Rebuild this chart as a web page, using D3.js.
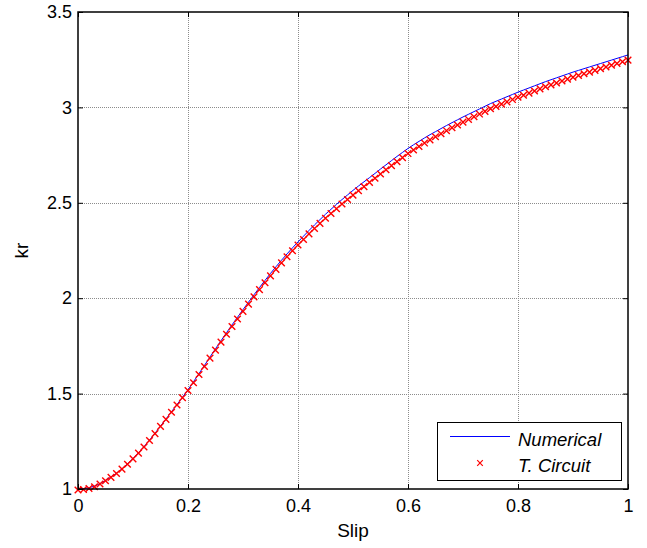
<!DOCTYPE html>
<html>
<head>
<meta charset="utf-8">
<script src="https://cdn.jsdelivr.net/npm/d3@7/dist/d3.min.js"></script>
<style>
  html, body { margin: 0; padding: 0; background: #fff; }
  svg { display: block; font-family: "Liberation Sans", Arial, sans-serif; }
</style>
</head>
<body>
<svg id="chart" width="647" height="548"></svg>
<script>
// Slip values (x) shared by both series
const slip = [
  0.00,0.01,0.02,0.03,0.04,0.05,0.06,0.07,0.08,0.09,
  0.10,0.11,0.12,0.13,0.14,0.15,0.16,0.17,0.18,0.19,
  0.20,0.21,0.22,0.23,0.24,0.25,0.26,0.27,0.28,0.29,
  0.30,0.31,0.32,0.33,0.34,0.35,0.36,0.37,0.38,0.39,
  0.40,0.41,0.42,0.43,0.44,0.45,0.46,0.47,0.48,0.49,
  0.50,0.51,0.52,0.53,0.54,0.55,0.56,0.57,0.58,0.59,
  0.60,0.61,0.62,0.63,0.64,0.65,0.66,0.67,0.68,0.69,
  0.70,0.71,0.72,0.73,0.74,0.75,0.76,0.77,0.78,0.79,
  0.80,0.81,0.82,0.83,0.84,0.85,0.86,0.87,0.88,0.89,
  0.90,0.91,0.92,0.93,0.94,0.95,0.96,0.97,0.98,0.99,
  1.00
];

// kr from the numerical solution
const numerical = [
  1.000,1.002,1.007,1.015,1.028,1.045,1.063,1.083,1.106,1.132,
  1.160,1.190,1.222,1.256,1.292,1.330,1.367,1.405,1.443,1.481,
  1.520,1.562,1.605,1.648,1.692,1.735,1.777,1.819,1.860,1.900,
  1.940,1.979,2.018,2.056,2.093,2.130,2.165,2.199,2.232,2.264,
  2.295,2.325,2.355,2.384,2.412,2.440,2.466,2.492,2.517,2.541,
  2.565,2.588,2.610,2.632,2.654,2.677,2.699,2.721,2.743,2.764,
  2.785,2.804,2.822,2.840,2.857,2.873,2.889,2.905,2.920,2.935,
  2.950,2.964,2.978,2.992,3.006,3.020,3.032,3.044,3.056,3.068,
  3.080,3.091,3.102,3.113,3.124,3.135,3.145,3.155,3.165,3.175,
  3.185,3.194,3.203,3.212,3.221,3.230,3.239,3.248,3.257,3.266,
  3.275
];

// kr from the T equivalent circuit
const tCircuit = [
  0.995,0.997,1.003,1.012,1.026,1.043,1.061,1.081,1.104,1.130,
  1.158,1.188,1.220,1.254,1.290,1.328,1.365,1.402,1.440,1.478,
  1.516,1.557,1.600,1.642,1.686,1.728,1.770,1.811,1.852,1.891,
  1.931,1.969,2.007,2.045,2.081,2.117,2.151,2.185,2.217,2.249,
  2.279,2.308,2.337,2.365,2.392,2.419,2.444,2.469,2.494,2.517,
  2.540,2.563,2.585,2.607,2.629,2.651,2.673,2.695,2.716,2.737,
  2.758,2.777,2.795,2.813,2.830,2.846,2.862,2.878,2.893,2.908,
  2.923,2.937,2.951,2.965,2.979,2.993,3.005,3.017,3.029,3.041,
  3.053,3.064,3.075,3.086,3.097,3.108,3.118,3.128,3.138,3.148,
  3.158,3.167,3.176,3.185,3.194,3.203,3.212,3.221,3.230,3.239,
  3.248
];

const xTicks = [0, 0.2, 0.4, 0.6, 0.8, 1];
const xTickLabels = ["0", "0.2", "0.4", "0.6", "0.8", "1"];
const yTicks = [1, 1.5, 2, 2.5, 3, 3.5];
const yTickLabels = ["1", "1.5", "2", "2.5", "3", "3.5"];
const seriesNames = ["Numerical", "T. Circuit"];

const svg = d3.select("#chart");
const W = 647, H = 548;
const margin = { left: 78, top: 12, right: 19, bottom: 59 };
const pw = W - margin.left - margin.right;
const ph = H - margin.top - margin.bottom;

const x = d3.scaleLinear().domain([0, 1]).range([margin.left, margin.left + pw]);
const y = d3.scaleLinear().domain([1, 3.5]).range([margin.top + ph, margin.top]);

// dotted grid
const grid = svg.append("g").attr("stroke", "#8c8c8c").attr("stroke-width", 1)
  .attr("stroke-dasharray", "1,1");
grid.selectAll("line.gx").data(xTicks.slice(1, -1)).join("line")
  .attr("x1", d => Math.round(x(d)) + 0.5).attr("x2", d => Math.round(x(d)) + 0.5)
  .attr("y1", y(3.5)).attr("y2", y(1));
grid.selectAll("line.gy").data(yTicks.slice(1, -1)).join("line")
  .attr("y1", d => Math.round(y(d)) + 0.5).attr("y2", d => Math.round(y(d)) + 0.5)
  .attr("x1", x(0)).attr("x2", x(1));

// series: numerical line
const line = d3.line().x((d, i) => x(slip[i])).y(d => y(d));
svg.append("path").datum(numerical)
  .attr("fill", "none").attr("stroke", "#0000ff").attr("stroke-width", 1)
  .attr("d", line);

// series: T-circuit 'x' markers
const ms = 3.3;
const marks = svg.append("g").attr("stroke", "#ff0000").attr("stroke-width", 1.4);
marks.selectAll("path").data(tCircuit).join("path")
  .attr("d", (d, i) => {
    const cx = x(slip[i]), cy = y(d);
    return `M${cx - ms},${cy - ms}L${cx + ms},${cy + ms}M${cx - ms},${cy + ms}L${cx + ms},${cy - ms}`;
  });

// axes with inward ticks on all four sides
const tickLen = 5;
const axisG = svg.append("g");
axisG.append("rect")
  .attr("x", x(0)).attr("y", y(3.5)).attr("width", pw).attr("height", ph)
  .attr("fill", "none").attr("stroke", "#000").attr("stroke-width", 1.5);

const bottomAxis = d3.axisBottom(x).tickValues(xTicks).tickSize(-tickLen)
  .tickFormat((d, i) => xTickLabels[i]).tickPadding(10);
const topAxis = d3.axisTop(x).tickValues(xTicks).tickSize(-tickLen).tickFormat("");
const leftAxis = d3.axisLeft(y).tickValues(yTicks).tickSize(-tickLen)
  .tickFormat((d, i) => yTickLabels[i]).tickPadding(6);
const rightAxis = d3.axisRight(y).tickValues(yTicks).tickSize(-tickLen).tickFormat("");

function styleAxis(g) {
  g.select(".domain").remove();
  g.selectAll(".tick line").attr("stroke", "#000").attr("stroke-width", 1);
  g.selectAll(".tick text").attr("fill", "#000")
    .style("font-size", "18px").style("font-family", "'Liberation Sans', Arial, sans-serif");
}
axisG.append("g").attr("transform", `translate(0,${y(1)})`).call(bottomAxis).call(styleAxis);
axisG.append("g").attr("transform", `translate(0,${y(3.5)})`).call(topAxis).call(styleAxis);
axisG.append("g").attr("transform", `translate(${x(0)},0)`).call(leftAxis).call(styleAxis);
axisG.append("g").attr("transform", `translate(${x(1)},0)`).call(rightAxis).call(styleAxis);

// axis titles
svg.append("text").attr("x", x(0.5)).attr("y", 537).attr("text-anchor", "middle")
  .style("font-size", "19px").attr("fill", "#000").text("Slip");
svg.append("text").attr("transform", `translate(28,${y(2.25)}) rotate(-90)`)
  .attr("text-anchor", "middle").style("font-size", "19px").attr("fill", "#000").text("kr");

// legend
const lg = svg.append("g");
lg.append("rect").attr("x", 437.5).attr("y", 422.5).attr("width", 184).attr("height", 58)
  .attr("fill", "#fff").attr("stroke", "#000").attr("stroke-width", 1);
lg.append("line").attr("x1", 450).attr("x2", 510).attr("y1", 436.5).attr("y2", 436.5)
  .attr("stroke", "#0000ff").attr("stroke-width", 1);
const lms = 2.8;
lg.append("path")
  .attr("d", `M${480 - lms},${463 - lms}L${480 + lms},${463 + lms}M${480 - lms},${463 + lms}L${480 + lms},${463 - lms}`)
  .attr("stroke", "#ff0000").attr("stroke-width", 1.2);
lg.selectAll("text").data(seriesNames).join("text")
  .attr("x", 518).attr("y", (d, i) => 446 + i * 26)
  .style("font-size", "18.5px").style("font-style", "italic").attr("fill", "#000")
  .text(d => d);
</script>
</body>
</html>
